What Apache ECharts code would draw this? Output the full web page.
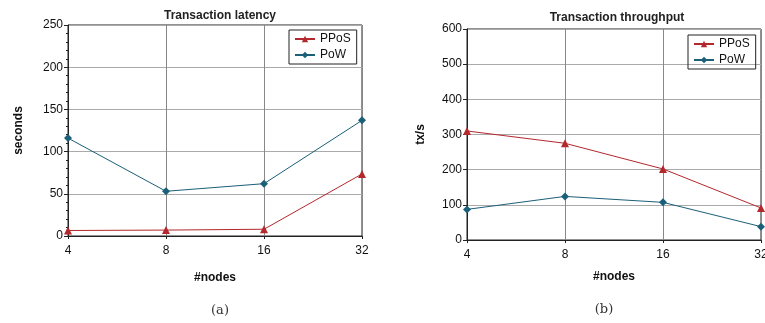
<html>
<meta charset="UTF-8">
<head>
<script src="https://cdn.jsdelivr.net/npm/echarts@6/dist/echarts.min.js"></script>
</head>
<body style="margin:0">
	<div id="chart" style="height: 323px; width: 765px"></div>
</body>
<script>
	// 横轴节点数
	var nodes = ['4', '8', '16', '32'];
	// 延迟 (秒)
	var latencyPPoS = [6.5, 7, 8, 73.5];
	var latencyPoW = [116, 53, 62, 137];
	// 吞吐量 (tx/s)
	var throughputPPoS = [310, 275, 202, 91];
	var throughputPoW = [87, 124, 107, 38];

	var red = '#b3282d';
	var teal = '#1b5f78';
	var font = 'Liberation Sans';

	function xAxisOf(idx, gap) {
		return {
			type : 'category',
			gridIndex : idx,
			boundaryGap : false,
			data : nodes,
			name : '#nodes',
			nameLocation : 'middle',
			nameGap : gap,
			nameTextStyle : { fontFamily : font, fontWeight : 'bold', fontSize : 12, color : '#111' },
			axisLine : { lineStyle : { color : '#222', width : 1 } },
			axisTick : { show : true, length : 3, lineStyle : { color : '#222' } },
			axisLabel : { fontFamily : font, fontSize : 12, color : '#111', margin : 9, hideOverlap : false },
			splitLine : { show : true, lineStyle : { color : '#888', width : 1 } }
		};
	}

	function yAxisOf(idx, name, max, interval, gap, minor) {
		return {
			type : 'value',
			gridIndex : idx,
			min : 0,
			max : max,
			interval : interval,
			name : name,
			nameLocation : 'middle',
			nameRotate : 90,
			nameGap : gap,
			nameTextStyle : { fontFamily : font, fontWeight : 'bold', fontSize : 12, color : '#111' },
			axisLine : { show : true, lineStyle : { color : '#222', width : 1 } },
			axisTick : { show : true, length : 4, lineStyle : { color : '#222' } },
			minorTick : { show : minor, splitNumber : 5, length : 2, lineStyle : { color : '#222' } },
			axisLabel : { fontFamily : font, fontSize : 12, color : '#111', margin : 5 },
			splitLine : { show : true, lineStyle : { color : '#aaa', width : 1 } }
		};
	}

	function lineOf(name, idx, data, color, symbol, size) {
		return {
			name : name,
			type : 'line',
			xAxisIndex : idx,
			yAxisIndex : idx,
			data : data,
			symbol : symbol,
			symbolSize : size,
			itemStyle : { color : color },
			lineStyle : { color : color, width : 1 },
			animation : false
		};
	}

	function legendOf(left, top) {
		return {
			left : left,
			top : top,
			orient : 'vertical',
			data : ['PPoS', 'PoW'],
			itemWidth : 20,
			itemHeight : 8,
			itemGap : 4,
			padding : [3, 6, 3, 5],
			borderColor : '#222',
			borderWidth : 1,
			textStyle : { fontFamily : font, fontSize : 12, color : '#111' }
		};
	}

	var chart = echarts.init(document.getElementById('chart'));
	var option = {
		backgroundColor : '#fff',
		animation : false,
		title : [
			{ text : 'Transaction latency', left : 215, top : 5, textAlign : 'center',
				textStyle : { fontFamily : font, fontWeight : 'bold', fontSize : 12, color : '#222' } },
			{ text : 'Transaction throughput', left : 612, top : 7, textAlign : 'center',
				textStyle : { fontFamily : font, fontWeight : 'bold', fontSize : 12, color : '#222' } },
			{ text : '(a)', left : 215, top : 299, textAlign : 'center',
				textStyle : { fontFamily : 'DejaVu Serif', fontWeight : 'normal', fontSize : 13, color : '#333' } },
			{ text : '(b)', left : 599, top : 298, textAlign : 'center',
				textStyle : { fontFamily : 'DejaVu Serif', fontWeight : 'normal', fontSize : 13, color : '#333' } }
		],
		legend : [ legendOf(289, 30), legendOf(688, 35) ],
		grid : [
			{ left : 68, right : 403, top : 25, bottom : 87, show : true, borderColor : '#222', borderWidth : 1,
				outerBoundsMode : 'none' },
			{ left : 467, right : 4, top : 29, bottom : 83, show : true, borderColor : '#222', borderWidth : 1,
				outerBoundsMode : 'none' }
		],
		xAxis : [ xAxisOf(0, 36), xAxisOf(1, 31) ],
		yAxis : [ yAxisOf(0, 'seconds', 250, 50, 43, true), yAxisOf(1, 'tx/s', 600, 100, 40, false) ],
		series : [
			lineOf('PPoS', 0, latencyPPoS, red, 'triangle', 8),
			lineOf('PoW', 0, latencyPoW, teal, 'diamond', 8),
			lineOf('PPoS', 1, throughputPPoS, red, 'triangle', 8),
			lineOf('PoW', 1, throughputPoW, teal, 'diamond', 8)
		]
	};
	chart.setOption(option);
</script>
</html>
